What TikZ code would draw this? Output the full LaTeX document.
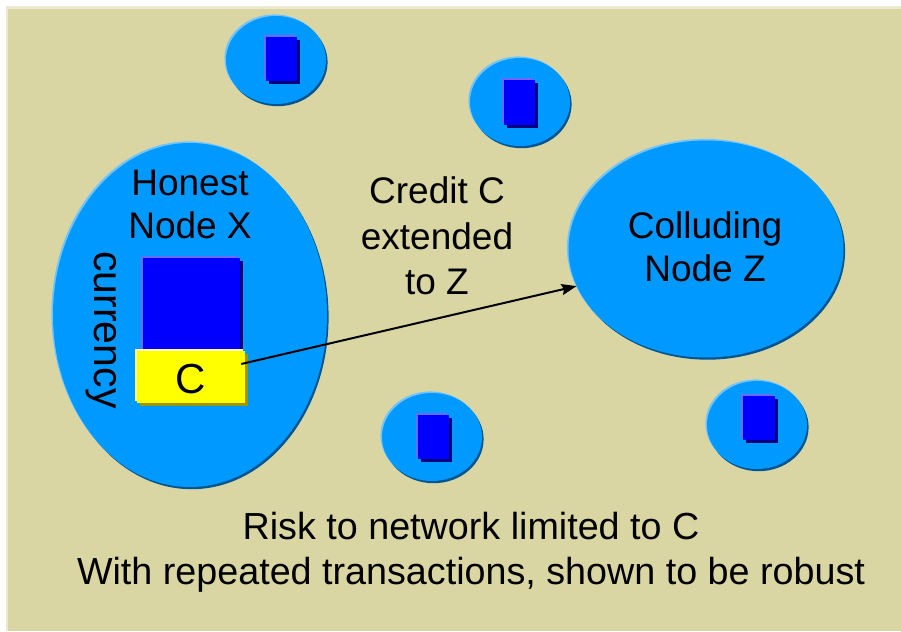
\documentclass[tikz,border=0pt]{standalone}
\usepackage{fontspec}
\setmainfont{Liberation Sans}
\usetikzlibrary{shapes.geometric,shadows,arrows.meta,calc}
\definecolor{paper}{HTML}{DAD6A4}
\definecolor{paperedge}{HTML}{ECE9CF}
\definecolor{bub}{HTML}{0099FF}
\definecolor{bubdark}{HTML}{00558F}
\definecolor{bublight}{HTML}{70C4FF}
\definecolor{acct}{HTML}{0000FF}
\definecolor{acctdark}{HTML}{00007A}
\definecolor{acctlight}{HTML}{6A6AFF}
\definecolor{cred}{HTML}{FFFF00}
\definecolor{creddark}{HTML}{9C9600}
\definecolor{credlight}{HTML}{FFFFA8}
\tikzset{
  bubble/.style={ellipse, inner sep=0pt, fill=bub,
    general shadow={fill=bubdark, shadow xshift=1.6pt, shadow yshift=-2.2pt},
    general shadow={fill=bublight, shadow xshift=-1.6pt, shadow yshift=1.6pt}},
  acctbox/.style={rectangle, inner sep=0pt, fill=acct,
    general shadow={fill=acctdark, shadow xshift=3pt, shadow yshift=-3pt},
    general shadow={fill=acctlight, shadow xshift=-2pt, shadow yshift=2pt}},
  credbox/.style={rectangle, inner sep=0pt, fill=cred,
    general shadow={fill=creddark, shadow xshift=3pt, shadow yshift=-3pt},
    general shadow={fill=credlight, shadow xshift=-2pt, shadow yshift=2pt}},
  bigtxt/.style={font=\fontsize{37}{43}\selectfont, align=center, text=black, inner sep=0pt},
  link/.style={line width=2pt, -{Stealth[length=15pt,width=11pt,inset=2pt]}}
}
\begin{document}
\begin{tikzpicture}[x=1pt,y=-1pt]
  \useasboundingbox (0,0) rectangle (901,631);
  % page background
  \fill[white] (0,0) rectangle (901,631);
  \fill[paperedge] (6,6) rectangle (901,631);
  \fill[paper] (8,9) rectangle (901,631);

  % participating nodes
  \node[bubble, minimum width=274pt, minimum height=344pt] (X) at (190,315) {};
  \node[bubble, minimum width=275pt, minimum height=217pt] (Z) at (706,249) {};
  \node[bubble, minimum width=100pt, minimum height=88pt] (n1) at (276,60) {};
  \node[bubble, minimum width=100pt, minimum height=88pt] (n2) at (520,102) {};
  \node[bubble, minimum width=100pt, minimum height=88pt] (n3) at (432,437) {};
  \node[bubble, minimum width=100pt, minimum height=88pt] (n4) at (757,425) {};

  % currency held by the other nodes
  \node[acctbox, minimum width=31pt, minimum height=44pt] (a1) at (281.5,59) {};
  \node[acctbox, minimum width=31pt, minimum height=45pt] (a2) at (519.5,102.5) {};
  \node[acctbox, minimum width=31pt, minimum height=44pt] (a3) at (433.5,436.5) {};
  \node[acctbox, minimum width=32pt, minimum height=44pt] (a4) at (759,418) {};

  % currency of X and the credit C
  \node[acctbox, minimum width=97pt, minimum height=94pt] (ax) at (191.5,305) {};
  \node[credbox, minimum width=108pt, minimum height=52pt] (C) at (191,377) {};
  \node[bigtxt, font=\fontsize{42}{48}\selectfont] (Ctxt) at (191,379) {C};

  % labels
  \node[bigtxt] (xlab) at (190,204) {Honest\\Node X};
  \node[bigtxt, font=\fontsize{41}{48}\selectfont, rotate=-90] (cur) at (101,330) {currency};
  \node[bigtxt] (zlab) at (705,247) {Colluding\\Node Z};
  \node[bigtxt, font=\fontsize{37}{45.5}\selectfont] (credit) at (437,236) {Credit C\\extended\\to Z};
  \node[bigtxt, font=\fontsize{37.7}{45}\selectfont] (risk) at (471,552) {Risk to network limited to C\\With repeated transactions, shown to be robust};

  % credit extended from X to Z
  \coordinate (cstart) at ($(C.east)+(-4,-13)$);
  \draw[link] (cstart) -- (Z.196);
\end{tikzpicture}
\end{document}
